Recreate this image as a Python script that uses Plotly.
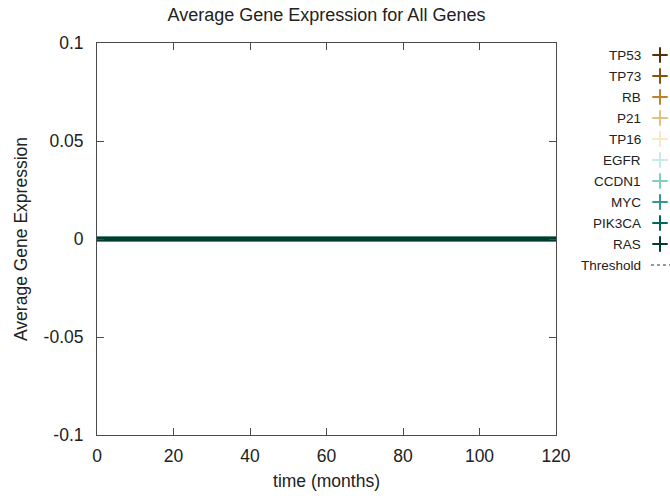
import plotly.graph_objects as go

# ---------------- data ----------------
genes = ["TP53", "TP73", "RB", "P21", "TP16", "EGFR", "CCDN1", "MYC", "PIK3CA", "RAS"]
colors = ["#543005", "#8c510a", "#bf812d", "#dfc27d", "#f6e8c3",
          "#c7eae5", "#80cdc1", "#35978f", "#01665e", "#003c30"]
time_months = [0, 20, 40, 60, 80, 100, 120]
avg_expression = {
    "TP53":   [0, 0, 0, 0, 0, 0, 0],
    "TP73":   [0, 0, 0, 0, 0, 0, 0],
    "RB":     [0, 0, 0, 0, 0, 0, 0],
    "P21":    [0, 0, 0, 0, 0, 0, 0],
    "TP16":   [0, 0, 0, 0, 0, 0, 0],
    "EGFR":   [0, 0, 0, 0, 0, 0, 0],
    "CCDN1":  [0, 0, 0, 0, 0, 0, 0],
    "MYC":    [0, 0, 0, 0, 0, 0, 0],
    "PIK3CA": [0, 0, 0, 0, 0, 0, 0],
    "RAS":    [0, 0, 0, 0, 0, 0, 0],
}
threshold_values = [0, 0, 0, 0, 0, 0, 0]
x_ticks = [0, 20, 40, 60, 80, 100, 120]
y_ticks = [-0.1, -0.05, 0, 0.05, 0.1]
y_tick_labels = ["-0.1", "-0.05", "0", "0.05", "0.1"]

# ---------------- layout geometry ----------------
W, H = 670, 496
ML, MR, MT, MB = 97, 0, 43, 61
plot_w = W - ML - MR
plot_h = H - MT - MB
main_right_px = 556
dom_end = (main_right_px - ML) / plot_w
leg_dom = [0.81, 1.0]
leg_x0 = ML + leg_dom[0] * plot_w
leg_x1 = ML + leg_dom[1] * plot_w

FONT = "Liberation Sans, Arial, sans-serif"
BORDER = "#4a4a4a"

fig = go.Figure()

# threshold (drawn underneath)
fig.add_trace(go.Scatter(x=time_months, y=threshold_values, mode="lines",
                         line=dict(color="#333333", width=1, dash="dash"),
                         showlegend=False, hoverinfo="skip"))
for g, c in zip(genes, colors):
    fig.add_trace(go.Scatter(x=time_months, y=avg_expression[g], mode="lines",
                             line=dict(color=c, width=4.5), name=g, showlegend=False))

# ---------------- custom legend (gnuplot style) ----------------
leg_text_x = 643
leg_mark_x = 660
leg_y0 = 55
leg_dy = 21
annotations = []
for i, (g, c) in enumerate(zip(genes, colors)):
    yy = leg_y0 + i * leg_dy
    annotations.append(dict(x=leg_text_x, y=yy, xref="x2", yref="y2", text=g,
                            showarrow=False, xanchor="right", yanchor="middle",
                            font=dict(family=FONT, size=13.5, color="#222")))
    fig.add_trace(go.Scatter(x=[leg_mark_x], y=[yy], xaxis="x2", yaxis="y2",
                             mode="markers", showlegend=False, hoverinfo="skip",
                             marker=dict(symbol="cross-thin", size=11, color=c,
                                         line=dict(color=c, width=2))))
yy = leg_y0 + len(genes) * leg_dy
annotations.append(dict(x=leg_text_x, y=yy, xref="x2", yref="y2", text="Threshold",
                        showarrow=False, xanchor="right", yanchor="middle",
                        font=dict(family=FONT, size=13.5, color="#222")))
fig.add_trace(go.Scatter(x=[651, leg_x1], y=[yy, yy], xaxis="x2", yaxis="y2",
                         mode="lines", showlegend=False, hoverinfo="skip",
                         line=dict(color="#333333", width=1, dash="3px,3px")))

axis_common = dict(showgrid=False, zeroline=False, showline=True, linecolor=BORDER,
                   linewidth=1, mirror="ticks", ticks="inside", ticklen=7,
                   tickcolor=BORDER, tickwidth=1, automargin=False,
                   tickfont=dict(family=FONT, size=17.5, color="#222"))

fig.update_layout(
    width=W, height=H,
    margin=dict(l=ML, r=MR, t=MT, b=MB, pad=0, autoexpand=False),
    paper_bgcolor="white", plot_bgcolor="white",
    font=dict(family=FONT, color="#222"),
    title=dict(text="Average Gene Expression for All Genes", x=(ML + main_right_px) / 2 / W,
               xanchor="center", y=1 - 15 / H, yanchor="middle",
               font=dict(family=FONT, size=18, color="#222")),
    xaxis=dict(domain=[0, dom_end], range=[0, 120], tickvals=x_ticks,
               ticklabelstandoff=5,
               title=dict(text="time (months)", standoff=9,
                          font=dict(family=FONT, size=17.5, color="#222")),
               **axis_common),
    yaxis=dict(domain=[0, 1], range=[-0.1, 0.1], tickvals=y_ticks, ticktext=y_tick_labels,
               ticklabelstandoff=9,
               title=dict(text="Average Gene Expression", standoff=11,
                          font=dict(family=FONT, size=17.5, color="#222")),
               **axis_common),
    xaxis2=dict(domain=leg_dom, range=[leg_x0, leg_x1], visible=False, anchor="y2",
                fixedrange=True, automargin=False),
    yaxis2=dict(domain=[0, 1], range=[MT + plot_h, MT], visible=False, anchor="x2",
                fixedrange=True, automargin=False),
    annotations=annotations,
    showlegend=False,
)

fig.write_html("out.html")
